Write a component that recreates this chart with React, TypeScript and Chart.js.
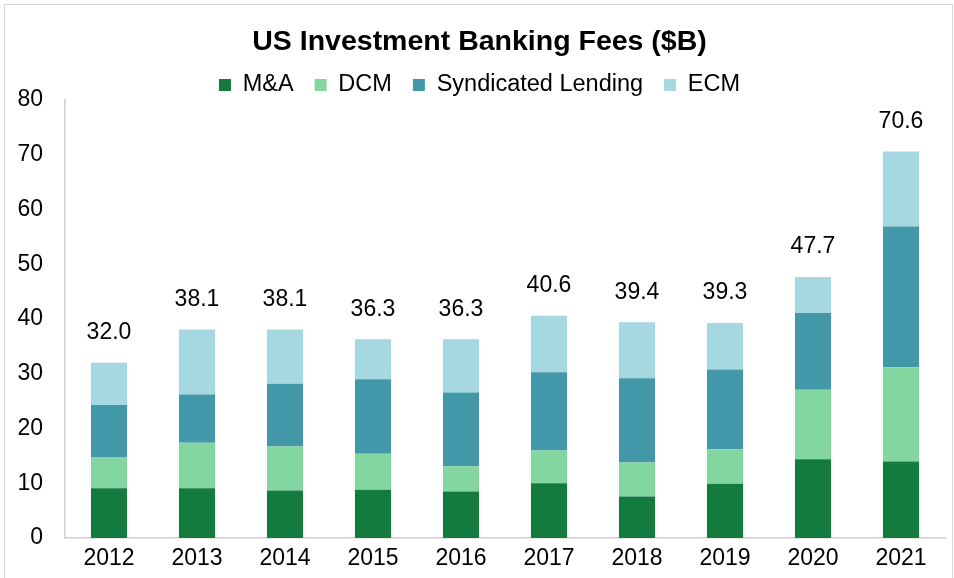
import React, { useEffect, useRef } from "react";
import { Chart, registerables } from "chart.js";

Chart.register(...registerables);

const years = ["2012", "2013", "2014", "2015", "2016", "2017", "2018", "2019", "2020", "2021"];
const maValues = [9.1, 9.1, 8.7, 8.8, 8.5, 10.0, 7.6, 9.9, 14.4, 14.0];
const dcmValues = [5.7, 8.3, 8.0, 6.6, 4.6, 6.0, 6.2, 6.3, 12.7, 17.2];
const slValues = [9.5, 8.8, 11.5, 13.6, 13.5, 14.3, 15.4, 14.6, 14.0, 25.7];
const ecmValues = [7.7, 11.9, 9.9, 7.3, 9.7, 10.3, 10.2, 8.5, 6.6, 13.7];
const totals = [32.0, 38.1, 38.1, 36.3, 36.3, 40.6, 39.4, 39.3, 47.7, 70.6];

const FONT = "'Liberation Sans', Arial, Helvetica, sans-serif";

const totalLabels = {
  id: "totalLabels",
  afterDatasetsDraw(chart: any) {
    const { ctx, scales } = chart;
    const x = scales.x;
    const y = scales.y;
    ctx.save();
    ctx.font = `23px ${FONT}`;
    ctx.fillStyle = "#000";
    ctx.textAlign = "center";
    ctx.textBaseline = "middle";
    totals.forEach((t, i) => {
      const px = x.getPixelForValue(i);
      const py = y.getPixelForValue(t) - 30;
      ctx.fillText(t.toFixed(1), px, py);
    });
    ctx.restore();
  },
};

export default function App() {
  const ref = useRef<HTMLCanvasElement | null>(null);

  useEffect(() => {
    if (!ref.current) return;
    Chart.defaults.font.family = FONT;
    Chart.defaults.color = "#000";
    const chart = new Chart(ref.current, {
      type: "bar",
      data: {
        labels: years,
        datasets: [
          { label: "M&A", data: maValues, backgroundColor: "#137B3E" },
          { label: "DCM", data: dcmValues, backgroundColor: "#84D6A1" },
          { label: "Syndicated Lending", data: slValues, backgroundColor: "#4298A9" },
          { label: "ECM", data: ecmValues, backgroundColor: "#A5D8E1" },
        ],
      },
      options: {
        animation: false,
        responsive: false,
        maintainAspectRatio: false,
        datasets: {
          bar: { categoryPercentage: 1, barPercentage: 0.41 },
        },
        layout: { padding: { left: 14, right: 9, top: 0, bottom: 0 } },
        plugins: {
          title: {
            display: true,
            text: "US Investment Banking Fees ($B)",
            color: "#000",
            font: { size: 28.5, weight: "bold", family: FONT, lineHeight: 0.7 },
            padding: { top: 32.2, bottom: 0 },
          },
          legend: {
            display: true,
            position: "top",
            maxHeight: 48,
            labels: {
              boxWidth: 12,
              boxHeight: 12,
              padding: 21,
              color: "#000",
              font: { size: 23.5, family: FONT },
            },
          },
          tooltip: { enabled: false },
        },
        scales: {
          x: {
            stacked: true,
            grid: { display: false, drawTicks: false },
            border: { display: true, color: "#d0d0d0", width: 1.5 },
            ticks: { padding: 7, color: "#000", font: { size: 23, family: FONT }, maxRotation: 0 },
            afterFit: (s: any) => {
              s.height = 40;
            },
          },
          y: {
            stacked: true,
            min: 0,
            max: 80,
            grid: { display: false, drawTicks: false },
            border: { display: true, color: "#d0d0d0", width: 1.5 },
            ticks: { stepSize: 10, padding: 22, color: "#000", font: { size: 23, family: FONT } },
            afterFit: (s: any) => {
              s.width = 51;
            },
          },
        },
      },
      plugins: [totalLabels],
    });
    return () => chart.destroy();
  }, []);

  return (
    <div style={{ position: "fixed", left: 0, top: 0, width: 954, height: 578, background: "#fff", overflow: "hidden" }}>
      <div
        style={{
          position: "absolute",
          left: 4,
          top: 4,
          width: 949,
          height: 600,
          border: "1.5px solid #d6d6d6",
          boxSizing: "border-box",
        }}
      />
      <canvas ref={ref} width={954} height={578} style={{ position: "absolute", left: 0, top: 0, width: 954, height: 578 }} />
    </div>
  );
}
